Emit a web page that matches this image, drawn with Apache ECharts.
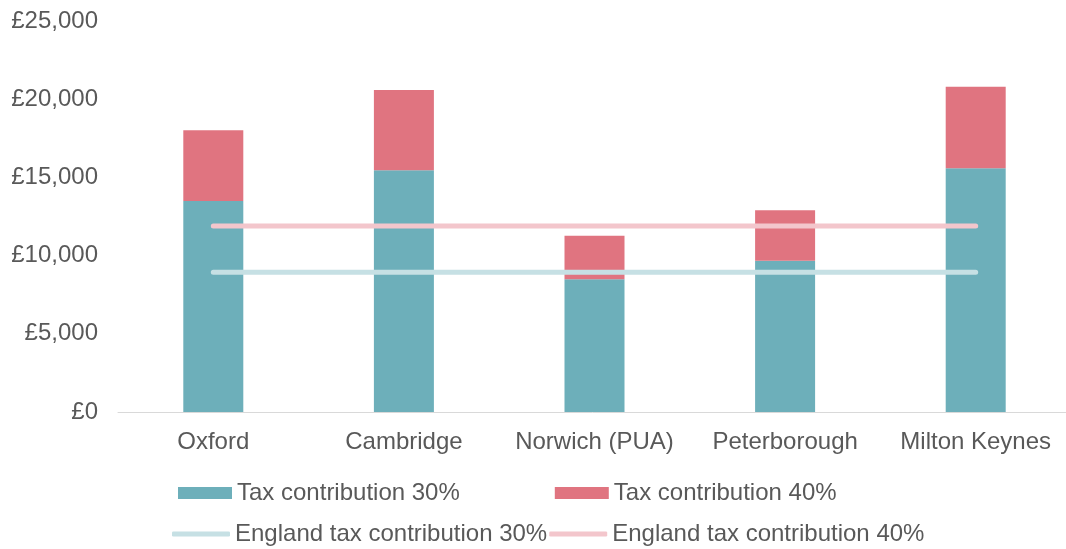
<!DOCTYPE html>
<html>
<head>
<meta charset="utf-8">
<script src="https://cdn.jsdelivr.net/npm/echarts@6/dist/echarts.min.js"></script>
<style>
  html, body { margin: 0; padding: 0; background: #fff; }
  #chart { width: 1066px; height: 549px; }
</style>
</head>
<body>
<div id="chart"></div>
<script>
const cities = ['Oxford', 'Cambridge', 'Norwich (PUA)', 'Peterborough', 'Milton Keynes']
// bar stack: 30% part, and the extra on top for 40%
const tax30 = [13490, 15450, 8480, 9670, 15580]
const tax40Extra = [4520, 5140, 2790, 3230, 5220]
const england30 = 8930
const england40 = 11900

const font = 'Liberation Sans, Arial, sans-serif'
const textGray = '#595959'

const chart = echarts.init(document.getElementById('chart'))

chart.setOption({
  animation: false,
  textStyle: { fontFamily: font },
  grid: { left: 118, right: -5, top: 21, bottom: 137, outerBoundsMode: 'none' },
  legend: [
    {
      data: ['Tax contribution 30%', 'Tax contribution 40%'],
      left: 173,
      top: 476,
      icon: 'rect',
      itemWidth: 54,
      itemHeight: 12,
      itemGap: 95,
      textStyle: { color: textGray, fontSize: 24, fontFamily: font }
    },
    {
      data: ['England tax contribution 30%', 'England tax contribution 40%'],
      left: 167,
      top: 517,
      icon: 'roundRect',
      itemWidth: 58,
      itemHeight: 5,
      itemGap: 2,
      textStyle: { color: textGray, fontSize: 24, fontFamily: font }
    }
  ],
  xAxis: {
    type: 'category',
    data: cities,
    axisLine: { lineStyle: { color: '#D9D9D9', width: 1 } },
    axisTick: { show: false },
    axisLabel: { color: textGray, fontSize: 24, margin: 18, interval: 0, fontFamily: font }
  },
  yAxis: {
    type: 'value',
    min: 0,
    max: 25000,
    interval: 5000,
    splitLine: { show: false },
    axisLine: { show: false },
    axisLabel: {
      color: textGray,
      fontSize: 24,
      margin: 20,
      fontFamily: font,
      formatter: v => '£' + v.toLocaleString('en-GB')
    }
  },
  series: [
    {
      name: 'Tax contribution 30%',
      type: 'bar',
      stack: 'tax',
      barWidth: 60,
      itemStyle: { color: '#6DAFBA' },
      data: tax30
    },
    {
      name: 'Tax contribution 40%',
      type: 'bar',
      stack: 'tax',
      barWidth: 60,
      itemStyle: { color: '#E07480' },
      data: tax40Extra
    },
    {
      name: 'England tax contribution 30%',
      type: 'line',
      symbol: 'none',
      itemStyle: { color: '#C6E0E4' },
      lineStyle: { color: '#C6E0E4', width: 5, cap: 'round' },
      data: cities.map(() => england30)
    },
    {
      name: 'England tax contribution 40%',
      type: 'line',
      symbol: 'none',
      itemStyle: { color: '#F3C6CC' },
      lineStyle: { color: '#F3C6CC', width: 5, cap: 'round' },
      data: cities.map(() => england40)
    }
  ]
})
</script>
</body>
</html>
